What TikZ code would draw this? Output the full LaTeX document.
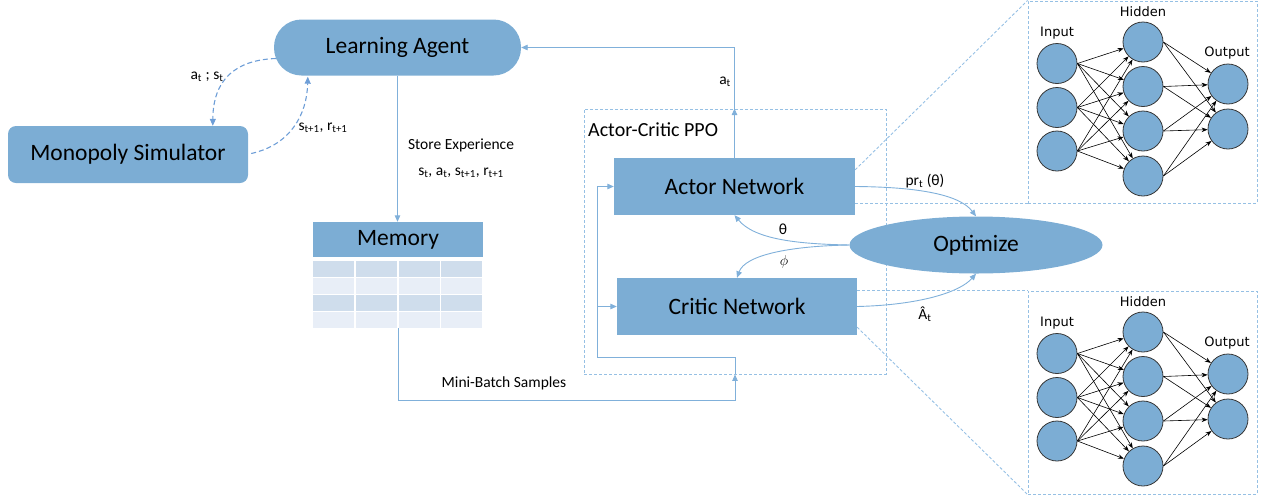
\documentclass[tikz,border=0pt]{standalone}
\usepackage{fontspec}
\setmainfont{Carlito}
\newfontfamily\nnfont{DejaVu Sans}
\usetikzlibrary{arrows.meta,shapes.geometric,calc}
\definecolor{mainblue}{RGB}{124,173,212}
\definecolor{lineblue}{RGB}{128,176,218}
\definecolor{dashblue}{RGB}{150,192,228}
\definecolor{dashcurve}{RGB}{110,158,215}
\definecolor{rowdark}{RGB}{207,221,236}
\definecolor{rowlight}{RGB}{232,238,247}
\definecolor{nnedge}{RGB}{55,55,55}
\begin{document}
\begin{tikzpicture}[x=1pt,y=-1pt,
  bigtext/.style={font=\fontsize{23.5}{28}\selectfont},
  small/.style={font=\fontsize{15.5}{18}\selectfont, inner sep=0pt},
  bluebox/.style={fill=mainblue, inner sep=0pt, bigtext},
  flow/.style={draw=lineblue, line width=0.9pt},
  arr/.style={flow, -{Triangle[length=6.5pt,width=5.5pt]}},
  dashline/.style={draw=dashblue, line width=0.9pt, dash pattern=on 3pt off 2pt},
  dasharr/.style={draw=dashcurve, line width=1.1pt, dash pattern=on 5pt off 3pt, -{Triangle[length=7pt,width=6pt]}},
  neuron/.style={circle, draw=nnedge, fill=mainblue, line width=0.8pt, minimum size=40pt, inner sep=0pt},
  nnarr/.style={draw=black, line width=0.6pt, -{Stealth[length=6pt,width=4.5pt]}},
  nnlabel/.style={font=\nnfont\fontsize{13}{15}\selectfont, inner sep=0pt},
]
\useasboundingbox (0,0) rectangle (1265,496);

% main nodes
\node[bluebox, rounded corners=27.5pt, minimum width=247pt, minimum height=56pt] (la) at (397.5,47.5) {Learning Agent};
\node[bluebox, rounded corners=8pt, minimum width=240pt, minimum height=57pt] (ms) at (128,154.5) {Monopoly Simulator};

% memory
\node[bluebox, minimum width=170pt, minimum height=35pt] (mem) at (398,239.5) {Memory};
\node[minimum width=170pt, minimum height=67pt, inner sep=0pt] (memtab) at (398,294.5) {};
\foreach \r/\c in {0/rowdark,1/rowlight,2/rowdark,3/rowlight} {
  \foreach \k in {0,...,3} {
    \fill[\c] (313+42.75*\k, 261+17*\r) rectangle ++(41,16);
  }
}

% actor-critic box
\node[dashline, draw, minimum width=302pt, minimum height=265pt, inner sep=0pt] (ac) at (735,241.5) {};
\node[font=\fontsize{20}{24}\selectfont, anchor=west, inner sep=0pt] (aclabel) at (588,130) {Actor-Critic PPO};
\node[bluebox, minimum width=241pt, minimum height=57pt] (actor) at (734.5,186.5) {Actor Network};
\node[bluebox, minimum width=240pt, minimum height=57pt] (critic) at (737,306.5) {Critic Network};
\node[ellipse, fill=mainblue, minimum width=253pt, minimum height=57pt, inner sep=0pt, bigtext] (opt) at (976,245) {Optimize};

% LA <-> simulator
\draw[dasharr] ($(la.west)+(2,11)$) .. controls (235,60) and (213,80) .. ($(ms.north west)+(205,0)$);
\draw[dasharr] ($(ms.east)+(3,-1)$) .. controls (290,145) and (307,115) .. ($(la.south west)+(34,1)$);
\node[small] (lat) at (207,77) {a\textsubscript{t} ; s\textsubscript{t}};
\node[small] (lst) at (323,128) {s\textsubscript{t+1}, r\textsubscript{t+1}};

% store experience
\draw[arr] (la.south) -- (la.south |- mem.north);
\node[small] (se1) at (461,145) {Store Experience};
\node[small] (se2) at (461,173) {s\textsubscript{t}, a\textsubscript{t}, s\textsubscript{t+1}, r\textsubscript{t+1}};

% mini-batch
\draw[arr] (memtab.south) |- ($(ac.south)+(0,25.5)$) -- (ac.south);
\node[small] (mbs) at (504,383) {Mini-Batch Samples};

% internal bus
\coordinate (bus) at (597,357);
\draw[flow] (ac.south) -- (ac.south |- bus) -- (bus) -- (bus |- actor.west);
\draw[arr] (bus |- actor.west) -- (actor.west);
\draw[arr] (bus |- critic.west) -- (critic.west);

% actor -> LA
\draw[arr] (actor.north) -- (actor.north |- ac.north);
\draw[arr] (actor.north |- ac.north) |- (la.east);
\node[small, anchor=east] (atl) at (731,82) {a\textsubscript{t}};

% optimize connections
\draw[arr] (actor.east) .. controls (920,187) and (960,195) .. (opt.north);
\draw[arr] (critic.east) .. controls (920,305) and (960,292) .. (opt.south);
\draw[arr] (opt.west) .. controls (800,244) and (755,240) .. (actor.south);
\draw[arr] (opt.west) .. controls (790,246) and (745,255) .. (critic.north);
\node[small] (prl) at (925,181) {pr\textsubscript{t} (θ)};
\node[small] (adv) at (925,314) {Â\textsubscript{t}};
\node[small] (thl) at (783,229) {θ};
\node[small] (phl) at (784,262) {$\phi$};

% NN boxes
\node[dashline, draw, minimum width=229pt, minimum height=202pt, inner sep=0pt] (nn1) at (1142.5,102) {};
\node[dashline, draw, minimum width=229pt, minimum height=203pt, inner sep=0pt] (nn2) at (1142.5,392.5) {};
\draw[dashline] ($(actor.north east)+(0,12)$) -- (nn1.north west);
\draw[dashline] (actor.east |- nn1.south west) -- (nn1.south west);
\draw[dashline] (critic.east |- nn2.north west) -- (nn2.north west);
\draw[dashline] ($(critic.south east)+(0,-8)$) -- (nn2.south west);

% neural nets
\foreach \net/\dy in {a/0, b/290} {
  \foreach \k/\yy in {1/63.5, 2/107.5, 3/151} \node[neuron] (\net-i\k) at (1057, \yy+\dy) {};
  \foreach \k/\yy in {1/42, 2/86.5, 3/131, 4/176} \node[neuron] (\net-h\k) at (1143, \yy+\dy) {};
  \foreach \k/\yy in {1/84, 2/129} \node[neuron] (\net-o\k) at (1228, \yy+\dy) {};
  \foreach \i in {1,2,3} \foreach \h in {1,...,4} \draw[nnarr] (\net-i\i.east) -- (\net-h\h);
  \foreach \h in {1,...,4} \foreach \o in {1,2} \draw[nnarr] (\net-h\h.east) -- (\net-o\o);
  \node[nnlabel] (\net-lin) at (1057, 33+\dy) {Input};
  \node[nnlabel] (\net-lhid) at (1143, 12+\dy) {Hidden};
  \node[nnlabel] (\net-lout) at (1227, 53+\dy) {Output};
}
\end{tikzpicture}
\end{document}
